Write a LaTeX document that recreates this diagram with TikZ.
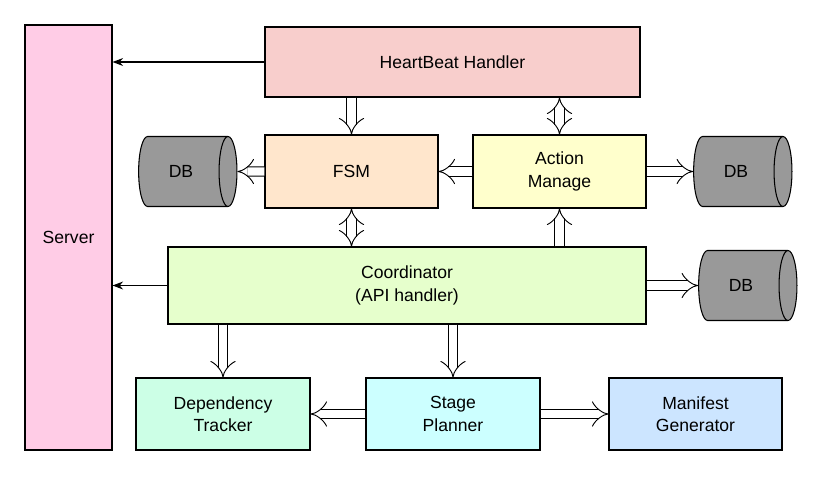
\documentclass[tikz,border=0pt]{standalone}
\usepackage{fontspec}
\setmainfont{Liberation Sans}
\usetikzlibrary{arrows.meta, shapes.geometric, positioning}

\definecolor{srvpink}{HTML}{FFCCE6}
\definecolor{hbred}{HTML}{F8CECC}
\definecolor{fsmorange}{HTML}{FFE6CC}
\definecolor{actyellow}{HTML}{FFFFCC}
\definecolor{coordgreen}{HTML}{E6FFCC}
\definecolor{depgreen}{HTML}{CCFFE6}
\definecolor{stagecyan}{HTML}{CCFFFF}
\definecolor{manblue}{HTML}{CCE5FF}

\tikzset{
  box/.style={draw, rectangle, line width=0.9pt, align=center, font=\fontsize{15}{19}\selectfont},
  db/.style={draw, cylinder, shape aspect=0.9, fill=black!40, line width=0.9pt,
    minimum width=2.1cm, minimum height=2.95cm, font=\fontsize{15}{19}\selectfont},
  flow/.style={draw, line width=0.8pt, double, double distance=7pt, -{Implies}},
  flows/.style={draw, line width=0.8pt, double, double distance=7pt, {Implies}-{Implies}},
  thin/.style={draw, line width=0.9pt, -{Stealth[length=9pt]}}
}

\begin{document}
\begin{tikzpicture}[x=0.03cm, y=-0.03cm]

        \useasboundingbox (0,0) rectangle (816,477);

        \node[box, fill=srvpink, minimum width=2.61cm, minimum height=12.75cm] (S) at (68.5,237.5) {Server};
        \node[box, fill=hbred, minimum width=11.25cm, minimum height=2.1cm] (H) at (452.5,62) {HeartBeat Handler};
        \node[box, fill=fsmorange, minimum width=5.19cm, minimum height=2.19cm] (F) at (351.5,171.5) {FSM};
        \node[box, fill=actyellow, minimum width=5.19cm, minimum height=2.19cm] (A) at (559.5,171.5) {Action\\Manage};
        \node[box, fill=coordgreen, minimum width=14.34cm, minimum height=2.31cm] (C) at (407,285.5) {Coordinator\\(API handler)};
        \node[box, fill=depgreen, minimum width=5.22cm, minimum height=2.16cm] (T) at (223,414) {Dependency\\Tracker};
        \node[box, fill=stagecyan, minimum width=5.22cm, minimum height=2.16cm] (P) at (453,414) {Stage\\Planner};
        \node[box, fill=manblue, minimum width=5.19cm, minimum height=2.16cm] (M) at (695.5,414) {Manifest\\Generator};

        \node[db] (D1) at (181,171.5) {DB};
        \node[db] (D2) at (736,171.5) {DB};
        \node[db] (D3) at (741,285.5) {DB};

        \draw[thin] (H.west) -- (H.west -| S.east);
        \draw[thin] (C.west) -- (C.west -| S.east);

        \draw[flow] (H.south -| F) -- (F.north);
        \draw[flows] (H.south -| A) -- (A.north);
        \draw[flow] (A.west) -- (F.east);
        \draw[flows] (F.south) -- (C.north -| F);
        \draw[flow] (C.north -| A) -- (A.south);
        \draw[flow] (F.west) -- (D1.east);
        \draw[flow] (A.east) -- (D2.west);
        \draw[flow] (C.east) -- (D3.west);
        \draw[flow] (C.south -| T) -- (T.north);
        \draw[flow] (C.south -| P) -- (P.north);
        \draw[flow] (P.west) -- (T.east);
        \draw[flow] (P.east) -- (M.west);

\end{tikzpicture}
\end{document}
